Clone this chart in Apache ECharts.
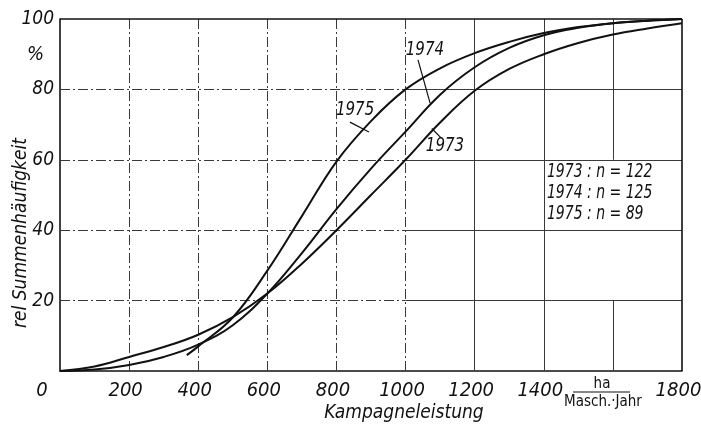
<!DOCTYPE html>
<html><head><meta charset="utf-8">
<script src="https://cdn.jsdelivr.net/npm/echarts@6/dist/echarts.min.js"></script>
<style>html,body{margin:0;padding:0;background:#fff}#c{width:701px;height:434px}</style>
</head><body><div id="c"></div>
<script>
// ---- data ----
const kamp1973 = [0, 100, 200, 300, 400, 500, 600, 700, 800, 900, 1000, 1100, 1200, 1300, 1400, 1500, 1600, 1700, 1800];
const summ1973 = [0, 1.3, 4, 6.8, 10.3, 15.3, 22, 30.5, 40, 50, 60, 70.6, 79.6, 85.8, 90, 93.2, 95.6, 97.3, 98.8];
const kamp1974 = [0, 100, 200, 300, 400, 500, 600, 700, 800, 900, 1000, 1100, 1200, 1300, 1400, 1500, 1600, 1700, 1800];
const summ1974 = [0, 0.4, 1.7, 4, 7.5, 13, 22, 33.5, 46, 57.5, 68, 78.5, 86.3, 91.8, 95.4, 97.5, 98.8, 99.5, 100];
const kamp1975 = [367, 400, 500, 600, 700, 800, 900, 1000, 1100, 1200, 1300, 1400, 1500, 1600, 1700, 1800];
const summ1975 = [4.5, 7, 15.2, 28.5, 44, 59.5, 71, 80, 86, 90.3, 93.5, 96, 97.7, 98.8, 99.5, 100];
const seriesNames = ['1973', '1974', '1975'];
const legendLines = ['1973 : n = 122', '1974 : n = 125', '1975 : n = 89'];
const xTicks = [0, 200, 400, 600, 800, 1000, 1200, 1400, 1600, 1800];
const yTicks = [20, 40, 60, 80, 100];
const unitTop = 'ha';
const unitBottom = 'Masch.·Jahr';
const xTitle = 'Kampagneleistung';
const yTitle = 'rel Summenhäufigkeit';
const yUnit = '%';

const FONT = '"DejaVu Sans Condensed", "Liberation Sans", sans-serif';
const INK = '#111';
const pairs = (xs, ys) => xs.map((x, i) => [x, ys[i]]);

// grid (chart frame), in axis units
const dashDot = [10, 3, 2, 3];
const gridSegs = [];
[200, 400, 600, 800, 1000].forEach(v => gridSegs.push({ a: [v, 0], b: [v, 100], t: dashDot }));
[1200, 1400].forEach(v => gridSegs.push({ a: [v, 0], b: [v, 100], t: 'solid' }));
gridSegs.push({ a: [1600, 0], b: [1600, 20], t: 'solid' });
gridSegs.push({ a: [1600, 60], b: [1600, 100], t: 'solid' });
[20, 40, 60, 80].forEach(v => {
  gridSegs.push({ a: [0, v], b: [1000, v], t: dashDot });
  gridSegs.push({ a: [1000, v], b: [1800, v], t: 'solid' });
});
const frameSegs = [{ a: [0, 100], b: [1800, 100] }, { a: [1800, 0], b: [1800, 100] }];

const chart = echarts.init(document.getElementById('c'), null, { renderer: 'canvas' });

const curve = (name, data) => ({
  name, type: 'line', data, smooth: 0.4, symbol: 'none', silent: true,
  lineStyle: { color: INK, width: 2 }, z: 5
});

const s73 = curve(seriesNames[0], pairs(kamp1973, summ1973));
const s74 = curve(seriesNames[1], pairs(kamp1974, summ1974));
const s75 = curve(seriesNames[2], pairs(kamp1975, summ1975));

// annotation anchors (axis units): text centre, leader start, leader end
const annots = [
  { s: s74, text: seriesNames[1], at: [1056, 91.2], a: [1036, 88.4], b: [1071, 76.1] },
  { s: s73, text: seriesNames[0], at: [1114, 63.9], a: [1076, 68.9], b: [1102, 66.3] },
  { s: s75, text: seriesNames[2], at: [854, 74.1], a: [839, 70.7], b: [894, 67.9] }
];
annots.forEach(o => {
  o.s.markLine = { silent: true, symbol: 'none', label: { show: false },
    lineStyle: { color: INK, width: 1.2, type: 'solid' }, data: [[{ coord: o.a }, { coord: o.b }]] };
});

const gridSeries = {
  type: 'line', data: [], silent: true, z: 1,
  markLine: {
    silent: true, symbol: 'none', label: { show: false }, animation: false,
    data: gridSegs.map(g => [{ coord: g.a, lineStyle: { color: '#3a3a3a', width: 1, type: g.t } }, { coord: g.b }])
      .concat(frameSegs.map(g => [{ coord: g.a, lineStyle: { color: INK, width: 1.6, type: 'solid' } }, { coord: g.b }]))
  }
};

chart.setOption({
  animation: false,
  backgroundColor: '#fff',
  grid: { left: 60, right: 19, top: 19, bottom: 63, outerBoundsMode: 'none', containLabel: false },
  xAxis: {
    type: 'value', min: 0, max: 1800, interval: 200,
    name: xTitle, nameLocation: 'middle', nameGap: 33, nameMoveOverlap: false,
    nameTextStyle: { color: INK, fontFamily: FONT, fontStyle: 'italic', fontSize: 19, padding: [0, 0, 0, 66] },
    axisLine: { show: true, lineStyle: { color: INK, width: 1.6 } },
    axisTick: { show: false }, splitLine: { show: false },
    axisLabel: {
      color: INK, fontFamily: FONT, fontStyle: 'italic', fontSize: 20, margin: 10, padding: [0, 7, 0, 0],
      formatter: v => v === 0 ? '{z|0}' : (v === 1600 ? '' : (xTicks.indexOf(v) >= 0 ? String(v) : '')),
      rich: { z: { color: INK, fontFamily: FONT, fontStyle: 'italic', fontSize: 20, padding: [0, 29, 0, 0] } }
    }
  },
  yAxis: {
    type: 'value', min: 0, max: 100, interval: 20,
    name: yTitle, nameLocation: 'middle', nameGap: 29, nameRotate: 90, nameMoveOverlap: false,
    nameTextStyle: { color: INK, fontFamily: FONT, fontStyle: 'italic', fontSize: 19, padding: [0, 76, 0, 0] },
    axisLine: { show: true, lineStyle: { color: INK, width: 1.6 } },
    axisTick: { show: false }, splitLine: { show: false },
    axisLabel: {
      color: INK, fontFamily: FONT, fontStyle: 'italic', fontSize: 19, margin: 6,
      formatter: v => yTicks.indexOf(v) >= 0 ? String(v) : ''
    }
  },
  series: [gridSeries, s73, s74, s75]
});

// texts placed from axis coordinates (slightly condensed like the drafting lettering)
const P = c => chart.convertToPixel({ gridIndex: 0 }, c);
const gfx = [
  { type: 'text', left: 27, top: 45, style: { text: yUnit, fill: INK, font: 'italic 20px ' + FONT } },
  { type: 'text', x: 602, y: 384, style: { text: unitTop, fill: INK, font: '15px ' + FONT, align: 'center', verticalAlign: 'middle' } },
  { type: 'line', shape: { x1: 573, y1: 392, x2: 630, y2: 392 }, style: { stroke: INK, lineWidth: 1.2 } },
  { type: 'text', x: 603, y: 402, style: { text: unitBottom, fill: INK, font: '15px ' + FONT, align: 'center', verticalAlign: 'middle' } }
];
annots.forEach(o => {
  const p = P(o.at);
  gfx.push({ type: 'text', x: p[0], y: p[1], scaleX: 0.88, z: 10,
    style: { text: o.text, fill: INK, font: 'italic 19px ' + FONT, align: 'center', verticalAlign: 'middle' } });
});
const lp = P([1409, 50.5]);
gfx.push({ type: 'text', x: lp[0], y: lp[1], scaleX: 0.82, z: 10,
  style: { text: legendLines.join('\n'), fill: INK, font: 'italic 19px ' + FONT, lineHeight: 21, align: 'left', verticalAlign: 'middle' } });
chart.setOption({ graphic: gfx });
</script>
</body></html>
